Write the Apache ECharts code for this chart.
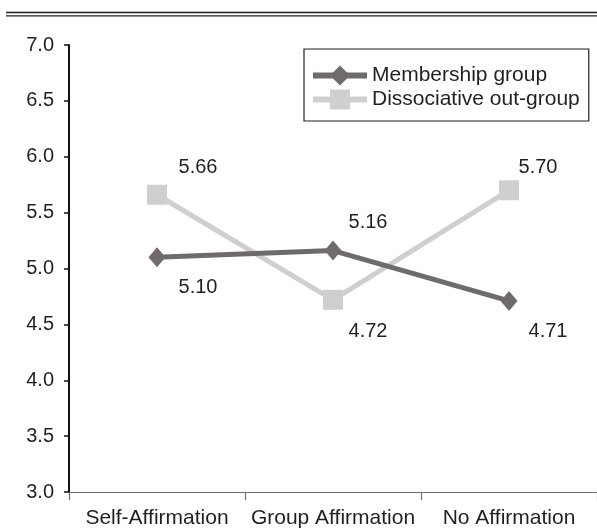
<!DOCTYPE html>
<html>
<head>
<meta charset="utf-8">
<script src="https://cdn.jsdelivr.net/npm/echarts@6/dist/echarts.min.js"></script>
<style>
html,body{margin:0;padding:0;background:#fff;}
#chart{width:597px;height:529px;}
</style>
</head>
<body>
<div id="chart"></div>
<script>
const categories = ['Self-Affirmation', 'Group Affirmation', 'No Affirmation'];
const seriesNames = ['Membership group', 'Dissociative out-group'];
const membershipValues = [5.10, 5.16, 4.71];
const dissociativeValues = [5.66, 4.72, 5.70];
const yTicks = { min: 3.0, max: 7.0, step: 0.5 };

const FONT = '"Liberation Sans", Arial, Helvetica, sans-serif';
const TEXT = '#231f20';
const DARK = '#6f6b6a';
const LIGHT = '#cfcfcf';

const memOffsets = [[41, 30], [35, -28], [39, 31]];
const disOffsets = [[41, -27], [35, 32], [29, -23]];

function buildData(values, offsets) {
  return values.map((v, i) => ({
    value: v,
    label: { offset: offsets[i] }
  }));
}

const chart = echarts.init(document.getElementById('chart'), null, { renderer: 'canvas' });
chart.setOption({
  animation: false,
  backgroundColor: '#fff',
  textStyle: { fontFamily: FONT },
  grid: { left: 69, right: 0, top: 45, bottom: 37, containLabel: false },
  graphic: [
    { type: 'line', shape: { x1: 6, y1: 12.5, x2: 597, y2: 12.5 }, style: { stroke: TEXT, lineWidth: 1.3 } },
    { type: 'line', shape: { x1: 6, y1: 15.8, x2: 597, y2: 15.8 }, style: { stroke: TEXT, lineWidth: 1.3 } }
  ],
  legend: {
    orient: 'vertical',
    left: 304,
    top: 49,
    padding: [16, 9, 11, 6],
    borderColor: TEXT,
    borderWidth: 1.2,
    itemWidth: 54,
    itemHeight: 25,
    itemGap: 3,
    lineStyle: { width: 6 },
    textStyle: { fontFamily: FONT, fontSize: 21, color: TEXT },
    data: seriesNames
  },
  xAxis: {
    type: 'category',
    data: categories,
    boundaryGap: true,
    axisLine: { lineStyle: { color: '#6d6d6d', width: 1.2 } },
    axisTick: { show: true, interval: 0, length: 8, lineStyle: { color: '#6d6d6d', width: 1.2 } },
    axisLabel: { interval: 0, hideOverlap: false, color: TEXT, fontSize: 21, fontFamily: FONT, margin: 16 },
    splitLine: { show: false }
  },
  yAxis: {
    type: 'value',
    min: yTicks.min,
    max: yTicks.max,
    interval: yTicks.step,
    axisLine: { show: true, lineStyle: { color: '#111', width: 2 } },
    axisTick: { show: true, length: 5, lineStyle: { color: '#111', width: 1.5 } },
    axisLabel: { color: TEXT, fontSize: 20, fontFamily: FONT, margin: 15, formatter: v => v.toFixed(1) },
    splitLine: { show: false }
  },
  series: [
    {
      name: seriesNames[0],
      type: 'line',
      data: buildData(membershipValues, memOffsets),
      symbol: 'diamond',
      symbolSize: [17, 20],
      lineStyle: { color: DARK, width: 5 },
      itemStyle: { color: DARK },
      label: { show: true, position: 'inside', color: TEXT, fontSize: 20, fontFamily: FONT, formatter: p => p.value.toFixed(2) },
      z: 3
    },
    {
      name: seriesNames[1],
      type: 'line',
      data: buildData(dissociativeValues, disOffsets),
      symbol: 'rect',
      symbolSize: [20, 20],
      lineStyle: { color: LIGHT, width: 5 },
      itemStyle: { color: LIGHT },
      label: { show: true, position: 'inside', color: TEXT, fontSize: 20, fontFamily: FONT, formatter: p => p.value.toFixed(2) },
      z: 2
    }
  ]
});
</script>
</body>
</html>
